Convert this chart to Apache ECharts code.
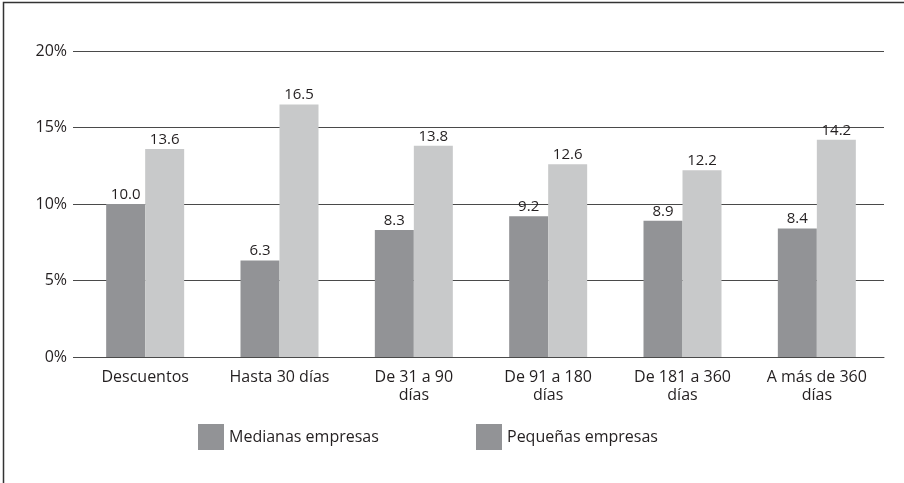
<!DOCTYPE html>
<html>
<head>
<meta charset="utf-8">
<script src="https://cdn.jsdelivr.net/npm/echarts@6/dist/echarts.min.js"></script>
<style>
html, body { margin: 0; padding: 0; background: #fff; }
#main { width: 904px; height: 483px; }
</style>
</head>
<body>
<div id="main"></div>
<script>
var categorias = ['Descuentos', 'Hasta 30 días', 'De 31 a 90\ndías', 'De 91 a 180\ndías', 'De 181 a 360\ndías', 'A más de 360\ndías'];
var medianas = [10.0, 6.3, 8.3, 9.2, 8.9, 8.4];
var pequenas = [13.6, 16.5, 13.8, 12.6, 12.2, 14.2];

var fuente = '"Open Sans", "Noto Sans", sans-serif';
var texto = '#231f20';
var oscuro = '#929396';
var claro = '#c8c9ca';
var linea = '#4a4a4a';

var myChart = echarts.init(document.getElementById('main'));
myChart.setOption({
    animation: false,
    textStyle: { fontFamily: fuente, color: texto },
    graphic: [{
        type: 'rect',
        shape: { x: 3.5, y: 2.5, width: 920, height: 500 },
        style: { fill: 'none', stroke: '#333', lineWidth: 1.5 },
        silent: true
    }],
    grid: { left: 78, right: 20, top: 51, bottom: 126 },
    legend: [{
        left: 193, top: 419,
        itemWidth: 26, itemHeight: 26,
        icon: 'rect',
        textStyle: { fontSize: 16, color: texto, fontFamily: fuente },
        data: [{ name: 'Medianas empresas', itemStyle: { color: oscuro } }]
    }, {
        left: 471, top: 419,
        itemWidth: 26, itemHeight: 26,
        icon: 'rect',
        textStyle: { fontSize: 16, color: texto, fontFamily: fuente },
        data: [{ name: 'Pequeñas empresas', itemStyle: { color: oscuro } }]
    }],
    xAxis: {
        type: 'category',
        data: categorias,
        axisLine: { lineStyle: { color: linea, width: 1 } },
        axisTick: { show: false },
        axisLabel: { interval: 0, margin: 11, fontSize: 16, lineHeight: 18, color: texto, fontFamily: fuente }
    },
    yAxis: {
        type: 'value',
        min: 0, max: 20, interval: 5,
        axisLine: { show: false },
        axisTick: { show: true, length: 5, lineStyle: { color: linea } },
        splitLine: { lineStyle: { color: linea, width: 1 } },
        axisLabel: { formatter: '{value}%', margin: 11, fontSize: 16, color: texto, fontFamily: fuente }
    },
    series: [{
        name: 'Medianas empresas',
        type: 'bar',
        data: medianas,
        barWidth: 39,
        barGap: '0%',
        itemStyle: { color: oscuro },
        label: { show: true, position: 'top', distance: 2, fontSize: 15, color: texto, fontFamily: fuente,
            formatter: function (p) { return p.value.toFixed(1); } }
    }, {
        name: 'Pequeñas empresas',
        type: 'bar',
        data: pequenas,
        barWidth: 39,
        itemStyle: { color: claro },
        label: { show: true, position: 'top', distance: 2, fontSize: 15, color: texto, fontFamily: fuente,
            formatter: function (p) { return p.value.toFixed(1); } }
    }]
});
</script>
</body>
</html>
